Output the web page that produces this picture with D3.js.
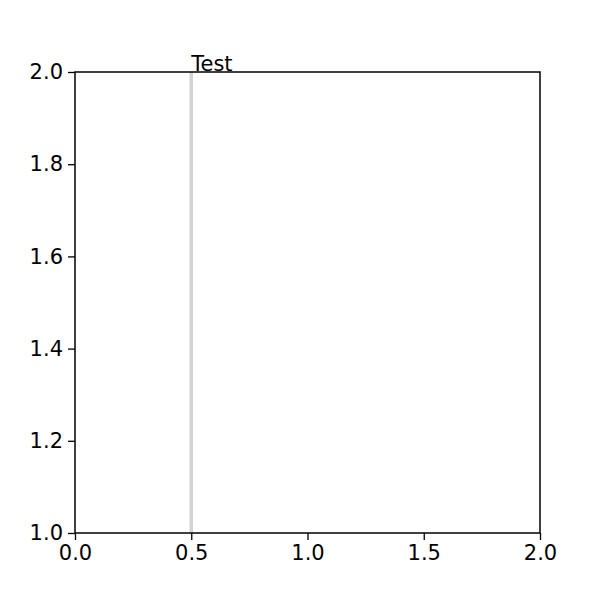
<!DOCTYPE html>
<html><head><meta charset="utf-8">
<script src="https://cdn.jsdelivr.net/npm/d3@7"></script>
<style>body{margin:0;background:#fff} text{font-family:"DejaVu Sans";font-size:24px}</style>
</head><body><div id="chart"></div>
<script>
var xDomain = [0, 2];
var yDomain = [1, 2];
var xTicks = [0, 0.5, 1, 1.5, 2];
var yTicks = [1, 1.2, 1.4, 1.6, 1.8, 2];
var lineX = [0.5];
var labels = [{x: 0.5, y: 2, text: "Test"}];

var margin = {top: 72, right: 60, bottom: 67, left: 75};
var width = 600 - margin.left - margin.right;
var height = 600 - margin.top - margin.bottom;

var svg = d3.select("#chart").append("svg")
    .attr("width", 600).attr("height", 600);
var g = svg.append("g").attr("transform", "translate(" + margin.left + "," + margin.top + ")");

var x = d3.scaleLinear().domain(xDomain).range([0, width]);
var y = d3.scaleLinear().domain(yDomain).range([height, 0]);

g.selectAll(".vline").data(lineX).enter().append("line")
    .attr("x1", d => x(d)).attr("x2", d => x(d))
    .attr("y1", 0).attr("y2", height)
    .attr("stroke", "#d3d3d3").attr("stroke-width", 3.5);

var xa = g.append("g").attr("transform", "translate(0," + height + ")")
    .call(d3.axisBottom(x).tickValues(xTicks).tickFormat(d3.format(".1f")).tickSize(7).tickPadding(5));
var ya = g.append("g")
    .call(d3.axisLeft(y).tickValues(yTicks).tickFormat(d3.format(".1f")).tickSize(7).tickPadding(5));
[xa, ya].forEach(function (a) {
    a.attr("font-size", 21).attr("font-family", "DejaVu Sans");
    a.select(".domain").remove();
    a.selectAll("line").attr("stroke", "#000").attr("stroke-width", 1.3);
    a.selectAll("text").attr("fill", "#000").attr("font-size", 21).style("font-size", "21px");
});

g.append("rect").attr("width", width).attr("height", height)
    .attr("fill", "none").attr("stroke", "#000").attr("stroke-width", 1.5);

g.selectAll(".lbl").data(labels).enter().append("text")
    .attr("x", d => x(d.x)).attr("y", d => y(d.y) - 1)
    .attr("font-size", 21).style("font-size", "21px").text(d => d.text);
</script></body></html>
